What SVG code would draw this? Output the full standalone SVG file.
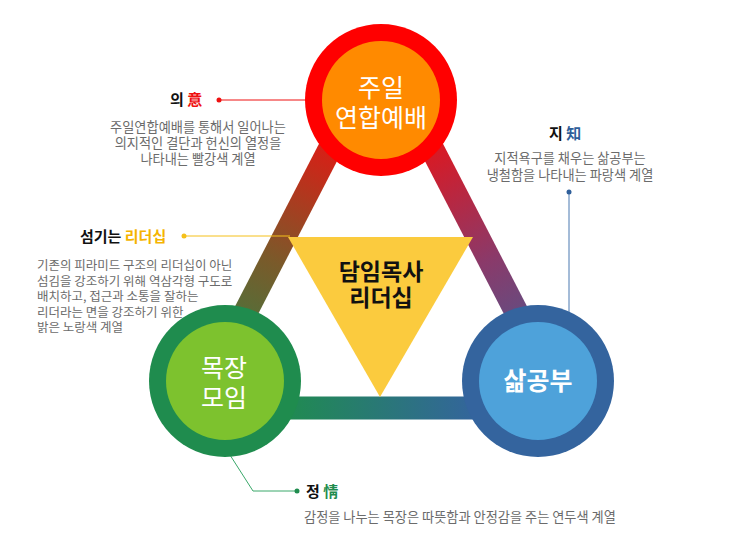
<svg xmlns="http://www.w3.org/2000/svg" width="730" height="538" viewBox="0 0 730 538">
<defs>
<style>
text{font-family:"Noto Sans CJK KR","Noto Sans",sans-serif}
.t{font-size:15px;font-weight:700;fill:#111}
.d{font-size:13.2px;fill:#6b6b6b}
.dl{font-size:12.5px;fill:#6b6b6b}
.c{font-size:25px;fill:#fff;text-anchor:middle}
.m{font-size:23px;font-weight:700;fill:#111;text-anchor:middle}
</style>
<linearGradient id="gl" gradientUnits="userSpaceOnUse" x1="340" y1="120" x2="200" y2="400"><stop offset="0" stop-color="#ee1111"/><stop offset="0.5" stop-color="#7a5a2a"/><stop offset="1" stop-color="#1f8c4e"/></linearGradient>
<linearGradient id="gr" gradientUnits="userSpaceOnUse" x1="420" y1="120" x2="560" y2="400"><stop offset="0" stop-color="#ee1111"/><stop offset="0.5" stop-color="#8a3a6a"/><stop offset="1" stop-color="#34649e"/></linearGradient>
<linearGradient id="gb" gradientUnits="userSpaceOnUse" x1="280" y1="0" x2="480" y2="0"><stop offset="0" stop-color="#1f8c4e"/><stop offset="1" stop-color="#34649e"/></linearGradient>
</defs>
<rect width="730" height="538" fill="#fff"/>
<g id="connectors" fill="none">
<line x1="367" y1="77" x2="196" y2="408" stroke="url(#gl)" stroke-width="24"/>
<line x1="395" y1="77" x2="566" y2="408" stroke="url(#gr)" stroke-width="24"/>
<line x1="200" y1="408" x2="562" y2="408" stroke="url(#gb)" stroke-width="23"/>
<line x1="219" y1="100" x2="310" y2="100" stroke="#ee1111" stroke-width="1"/>
<circle cx="219" cy="100" r="2.5" fill="#ee1111"/>
<line x1="569" y1="192" x2="569" y2="312" stroke="#4a78b0" stroke-width="1"/>
<circle cx="569" cy="192" r="2.5" fill="#2f5f9a"/>
<line x1="184" y1="236" x2="290" y2="236" stroke="#f5c01a" stroke-width="1"/>
<circle cx="184" cy="236" r="2.5" fill="#f5c01a"/>
<polyline points="297,491 253,491 230,455" stroke="#3aa86a" stroke-width="1"/>
<circle cx="297" cy="491" r="2.5" fill="#1f8c4e"/>
</g>
<g id="leader">
<polygon points="288,237 473,237 380,397" fill="#fbcb3e"/>
<text class="m" x="381" y="280">담임목사</text>
<text class="m" x="381" y="306">리더십</text>
</g>
<g id="worship">
<circle cx="381" cy="100" r="76" fill="#ff0000"/>
<circle cx="381" cy="100" r="59" fill="#ff8a00"/>
<text class="c" x="381" y="97">주일</text>
<text class="c" x="381" y="127">연합예배</text>
</g>
<g id="cell">
<circle cx="225" cy="381" r="76" fill="#1f8c4e"/>
<circle cx="225" cy="381" r="59" fill="#7dc22e"/>
<text class="c" x="224" y="377">목장</text>
<text class="c" x="224" y="407">모임</text>
</g>
<g id="study">
<circle cx="538" cy="381" r="76" fill="#34649e"/>
<circle cx="538" cy="381" r="59" fill="#4ea2da"/>
<text class="c" x="538" y="390" style="font-weight:700">삶공부</text>
</g>
<g id="label-will">
<text class="t" x="170" y="105">의 <tspan fill="#ee1111">意</tspan></text>
<text class="d" text-anchor="middle"><tspan x="198" y="132">주일연합예배를 통해서 일어나는</tspan><tspan x="198" y="148">의지적인 결단과 헌신의 열정을</tspan><tspan x="198" y="164">나타내는 빨강색 계열</tspan></text>
</g>
<g id="label-know">
<text class="t" x="549" y="139">지 <tspan fill="#2f5f9a">知</tspan></text>
<text class="d" text-anchor="middle"><tspan x="570" y="163">지적욕구를 채우는 삶공부는</tspan><tspan x="570" y="180">냉철함을 나타내는 파랑색 계열</tspan></text>
</g>
<g id="label-serve">
<text class="t" x="80" y="242">섬기는 <tspan fill="#f5b400">리더십</tspan></text>
<text class="dl"><tspan x="37" y="270">기존의 피라미드 구조의 리더십이 아닌</tspan><tspan x="37" y="286">섬김을 강조하기 위해 역삼각형 구도로</tspan><tspan x="37" y="301">배치하고, 접근과 소통을 잘하는</tspan><tspan x="37" y="317">리더라는 면을 강조하기 위한</tspan><tspan x="37" y="332">밝은 노랑색 계열</tspan></text>
</g>
<g id="label-feel">
<text class="t" x="306" y="497">정 <tspan fill="#1f8c4e">情</tspan></text>
<text class="d" x="304" y="522">감정을 나누는 목장은 따뜻함과 안정감을 주는 연두색 계열</text>
</g>
</svg>
